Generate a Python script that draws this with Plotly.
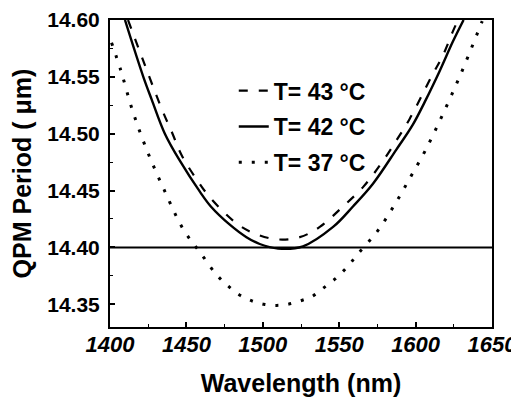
import plotly.graph_objects as go

# ---- data ----
wl_43 = [1411.8, 1433.8, 1440.3, 1446.9, 1455.6, 1465.4, 1483.9, 1496.9, 1510.0,
         1524.2, 1537.3, 1552.5, 1565.6, 1577.6, 1587.4, 1596.1, 1610.3, 1617.9, 1624.4, 1627.8]
qpm_43 = [14.600, 14.522, 14.502, 14.481, 14.462, 14.444, 14.420, 14.411, 14.407,
          14.409, 14.418, 14.436, 14.453, 14.474, 14.494, 14.513, 14.550, 14.569, 14.590, 14.600]

wl_42 = [1409.8, 1421.8, 1427.3, 1435.9, 1445.8, 1458.8, 1466.0, 1478.4, 1489.3, 1498.0, 1510.0,
         1526.3, 1546.0, 1559.0, 1572.1, 1587.4, 1598.2, 1606.0, 1615.7, 1624.4, 1631.4]
qpm_42 = [14.600, 14.550, 14.530, 14.500, 14.476, 14.449, 14.436, 14.420, 14.409, 14.403, 14.399,
          14.401, 14.418, 14.436, 14.456, 14.486, 14.508, 14.528, 14.555, 14.581, 14.600]

wl_37 = [1401.0, 1407.0, 1414.6, 1424.0, 1435.3, 1447.9, 1459.3, 1469.7, 1477.3, 1485.0, 1492.8,
         1500.7, 1509.0, 1516.5, 1524.6, 1532.4, 1539.4, 1547.1, 1554.7, 1562.1, 1575.4, 1586.9,
         1596.7, 1606.3, 1617.4, 1629.4, 1643.6]
qpm_37 = [14.580, 14.556, 14.521, 14.486, 14.451, 14.416, 14.395, 14.376, 14.366, 14.358, 14.353,
          14.350, 14.349, 14.350, 14.353, 14.357, 14.364, 14.372, 14.382, 14.394, 14.415, 14.439,
          14.462, 14.485, 14.516, 14.552, 14.599]

grating_period = 14.40

series_names = ["T= 43 °C", "T= 42 °C", "T= 37 °C"]
x_ticks = [1400, 1450, 1500, 1550, 1600, 1650]
y_ticks = [14.35, 14.40, 14.45, 14.50, 14.55, 14.60]

FONT = "Liberation Sans, Arial, Helvetica, sans-serif"

fig = go.Figure()
fig.add_trace(go.Scatter(x=wl_43, y=qpm_43, mode="lines", name=series_names[0],
                         legendgroup="a", line=dict(color="black", width=2.2, dash="9px,11px", shape="spline")))
fig.add_trace(go.Scatter(x=wl_42, y=qpm_42, mode="lines", name=series_names[1],
                         legendgroup="b", line=dict(color="black", width=2.4, shape="spline")))
fig.add_trace(go.Scatter(x=wl_37, y=qpm_37, mode="lines", name=series_names[2],
                         legendgroup="c", line=dict(color="black", width=3, dash="3px,10px", shape="spline")))
fig.add_hline(y=grating_period, line=dict(color="black", width=2))

axis_common = dict(showline=True, linecolor="black", linewidth=2, mirror=True,
                   ticks="inside", ticklen=5, tickwidth=1.5, tickcolor="black",
                   showgrid=False, zeroline=False, automargin=False)

fig.update_xaxes(range=[1400, 1650], tickvals=x_ticks,
                 tickfont=dict(family=FONT, size=22, color="black", weight="bold", style="italic"),
                 minor=dict(ticks="inside", ticklen=3, tickwidth=1, dtick=25, tickcolor="black"),
                 ticklabelstandoff=-3,
                 title=dict(text="Wavelength (nm)", standoff=18,
                            font=dict(family=FONT, size=25, color="black", weight="bold")),
                 **axis_common)
fig.update_yaxes(range=[14.33, 14.60], tickvals=y_ticks, tickformat=".2f",
                 tickfont=dict(family=FONT, size=21, color="black", weight="bold"),
                 minor=dict(ticks="inside", ticklen=3, tickwidth=1, dtick=0.025, tickcolor="black"),
                 ticklabelstandoff=4,
                 title=dict(text="QPM Period ( μm)", standoff=8,
                            font=dict(family=FONT, size=25, color="black", weight="bold")),
                 **axis_common)

# the page body adds an 8px offset, so the figure is sized to fill the 519x404 window
fig.update_layout(
    width=511, height=396,
    margin=dict(l=102, r=27, t=12, b=77),
    paper_bgcolor="white", plot_bgcolor="white",
    showlegend=True,
    legend=dict(x=0.324, y=0.84, xanchor="left", yanchor="top",
                bgcolor="rgba(0,0,0,0)", borderwidth=0,
                traceorder="grouped", tracegroupgap=3,
                font=dict(family=FONT, size=23, color="black", weight="bold")),
)

fig.write_html("out.html")
